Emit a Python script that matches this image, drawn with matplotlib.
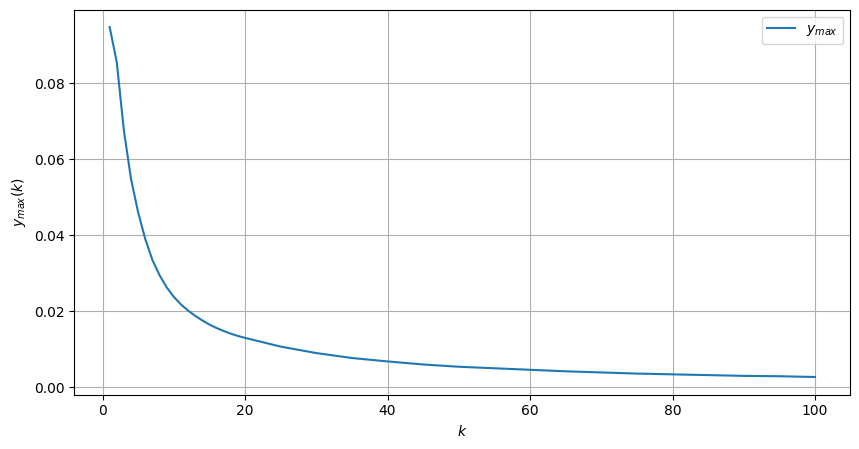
import matplotlib
matplotlib.use("Agg")
import matplotlib.pyplot as plt

k_values = [1, 2, 3, 4, 5, 6, 7, 8, 9, 10, 11, 12, 13, 14, 15, 16, 17, 18, 19, 20,
            25, 30, 35, 40, 45, 50, 55, 60, 65, 70, 75, 80, 85, 90, 95, 100]
y_max_values = [0.0948, 0.0855, 0.0675, 0.0548, 0.0460, 0.0390, 0.0335, 0.0295, 0.0263, 0.0238,
                0.0218, 0.0202, 0.0188, 0.0176, 0.0165, 0.0156, 0.0148, 0.0141, 0.0135, 0.0130,
                0.0107, 0.0090, 0.0077, 0.0068, 0.0060, 0.0054, 0.0050, 0.0046, 0.0042, 0.0039,
                0.0036, 0.0034, 0.0032, 0.0030, 0.0029, 0.0027]

fig = plt.figure(figsize=(8.59, 4.49), dpi=100)
ax = fig.add_axes([74.4 / 859, 1 - 394.5 / 449, (850.3 - 74.4) / 859, (394.5 - 9.6) / 449])
ax.plot(k_values, y_max_values, label=r'$y_{max}$')
ax.set_xlabel(r'$k$')
ax.set_ylabel(r'$y_{max}(k)$')
ax.grid(True)
ax.legend(loc='upper right')
fig.savefig("out.png", dpi=100)
